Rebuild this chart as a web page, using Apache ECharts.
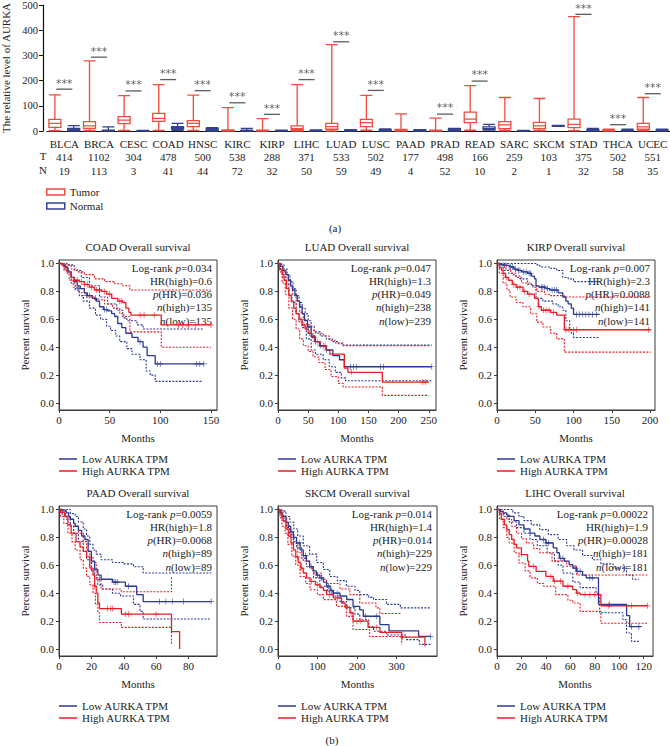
<!DOCTYPE html>
<html><head><meta charset="utf-8">
<script src="https://cdn.jsdelivr.net/npm/echarts@6/dist/echarts.min.js"></script>
<style>html,body{margin:0;padding:0;background:#fff}#c{width:670px;height:746px}</style>
</head><body><div id="c"></div>
<script>
// ---------------- Panel (a): expression box plot ----------------
const categories = ['BLCA','BRCA','CESC','COAD','HNSC','KIRC','KIRP','LIHC','LUAD','LUSC','PAAD','PRAD','READ','SARC','SKCM','STAD','THCA','UCEC'];
const tumorCounts = [414,1102,304,478,500,538,288,371,533,502,177,498,166,259,103,375,502,551];
const normalCounts = [19,113,3,41,44,72,32,50,59,49,4,52,10,2,1,32,58,35];
// [min, Q1, median, Q3, max]
const tumorBox = [
 [1,14,30,46,143],[1,10,20,37,278],[2,29,43,57,140],[2,38,50,70,184],[2,17,30,41,142],
 [0,1,2,4,93],[0,1,2,3,49],[0,4,9,20,184],[0,7,17,30,343],[3,17,33,46,141],
 [0,1,3,6,68],[0,1,2,3,51],[3,33,47,75,180],[1,9,24,37,133],[1,9,20,34,129],
 [1,13,26,47,454],[0,1,2,3,7],[1,7,16,30,133]
];
const normalBox = [
 [0,3,5,10,21],[0,1,2,3,16],[0,0.5,1,1.5,2],[3,8,13,17,30],[0,3,6,10,13],
 [0,1,1.5,2,10],[0,0.5,1,1.5,3],[0,1,1.5,2,4],[0,1,2,3,5],[0,1,3,5,8],
 [0,1,2,4,5],[0,2,5,9,10],[4,5,9,16,26],[0,0.5,1,1.5,2],[18,19,20,21,22],
 [0,1,3,5,10],[0,1,1.5,2,7],[0,1,2,3,7]
];
const sigLine = [166,293,159,204,160,112,66,204,354,161,null,67,198,null,null,463,25,148];
const boxTicks = [0,100,200,300,400,500];

// ---------------- Panel (b): Kaplan-Meier curves ----------------
const coadLow = [[0,1],[3,0.99],[6,0.97],[9,0.94],[12,0.9],[15,0.87],[18,0.84],[21,0.82],[25,0.79],[28,0.77],[33,0.75],[37,0.73],[40,0.69],[44,0.67],[48,0.66],[52,0.64],[55,0.62],[58,0.57],[62,0.54],[66,0.5],[72,0.47],[78,0.44],[83,0.4],[87,0.34],[95,0.28],[143,0.28]];
const coadLowUpper = [[0,1],[8,0.99],[15,0.95],[22,0.9],[30,0.84],[40,0.76],[48,0.71],[57,0.665],[63,0.61],[67,0.59],[77,0.56],[83,0.53],[142,0.53]];
const coadLowLower = [[0,1],[5,0.96],[8,0.93],[12,0.86],[16,0.81],[20,0.77],[24,0.73],[30,0.68],[36,0.63],[41,0.6],[47,0.55],[51,0.52],[56,0.48],[60,0.44],[67,0.39],[72,0.35],[80,0.31],[86,0.23],[90,0.2],[95,0.155],[142,0.155]];
const coadHigh = [[0,1],[4,0.98],[8,0.94],[12,0.9],[15,0.88],[20,0.87],[25,0.85],[30,0.83],[35,0.81],[42,0.8],[47,0.78],[52,0.75],[58,0.73],[63,0.72],[66,0.68],[69,0.65],[71,0.63],[101,0.56],[150,0.56]];
const coadHighUpper = [[0,1],[6,0.99],[12,0.96],[18,0.94],[25,0.92],[35,0.89],[45,0.87],[55,0.855],[63,0.84],[70,0.81],[150,0.81]];
const coadHighLower = [[0,1],[5,0.95],[10,0.88],[14,0.83],[20,0.79],[27,0.76],[35,0.74],[45,0.71],[53,0.68],[60,0.64],[64,0.62],[70,0.51],[101,0.4],[150,0.4]];
const coadLowCens = [[19,0.82],[27,0.77],[30,0.77],[36,0.75],[45,0.67],[47,0.67],[80,0.44],[97,0.28],[100,0.28],[136,0.28],[139,0.28],[143,0.28]];
const coadHighCens = [[15,0.88],[18,0.88],[22,0.87],[25,0.85],[28,0.85],[32,0.83],[37,0.81],[40,0.81],[45,0.8],[50,0.78],[60,0.73],[62,0.73],[80,0.63],[84,0.63],[94,0.63],[118,0.56],[122,0.56],[128,0.56],[135,0.56],[150,0.56]];

const luadLow = [[0,1],[4,0.98],[8,0.95],[13,0.92],[17,0.88],[21,0.84],[24,0.81],[28,0.77],[32,0.73],[36,0.69],[40,0.64],[44,0.59],[49,0.545],[55,0.48],[61,0.44],[69,0.41],[80,0.38],[91,0.34],[102,0.31],[110,0.26],[255,0.26]];
const luadLowUpper = [[0,1],[6,0.99],[10,0.96],[15,0.92],[20,0.87],[25,0.82],[30,0.77],[35,0.72],[40,0.68],[45,0.64],[50,0.59],[55,0.55],[60,0.51],[70,0.48],[80,0.46],[90,0.44],[100,0.425],[108,0.415],[255,0.415]];
const luadLowLower = [[0,1],[4,0.95],[8,0.9],[13,0.85],[18,0.78],[23,0.72],[30,0.64],[35,0.58],[40,0.54],[47,0.46],[55,0.38],[62,0.35],[75,0.31],[85,0.26],[95,0.22],[105,0.18],[112,0.16],[255,0.16]];
const luadHigh = [[0,1],[3,0.96],[7,0.92],[10,0.88],[14,0.82],[18,0.77],[22,0.73],[26,0.68],[30,0.64],[35,0.6],[40,0.56],[45,0.53],[50,0.5],[56,0.47],[62,0.44],[70,0.41],[80,0.38],[86,0.35],[110,0.25],[116,0.22],[173,0.15],[250,0.15]];
const luadHighUpper = [[0,1],[4,0.98],[8,0.94],[13,0.9],[18,0.84],[24,0.78],[30,0.71],[36,0.65],[42,0.6],[48,0.56],[55,0.52],[62,0.5],[75,0.48],[85,0.45],[95,0.43],[108,0.41],[250,0.41]];
const luadHighLower = [[0,1],[3,0.94],[7,0.86],[12,0.78],[18,0.68],[24,0.6],[30,0.53],[36,0.46],[42,0.41],[50,0.37],[58,0.33],[68,0.29],[78,0.24],[88,0.19],[100,0.14],[108,0.115],[173,0.055],[250,0.055]];
const luadLowCens = [[50,0.545],[58,0.48],[62,0.44],[70,0.41],[75,0.41],[80,0.38],[120,0.26],[125,0.26],[130,0.26],[170,0.26],[175,0.26],[255,0.26]];
const luadHighCens = [[38,0.6],[43,0.56],[52,0.5],[60,0.47],[66,0.44],[78,0.41],[122,0.22],[240,0.15],[245,0.15]];

const kirpLow = [[0,1],[5,0.99],[10,0.985],[17,0.975],[22,0.96],[27,0.95],[32,0.94],[40,0.93],[45,0.91],[49,0.89],[51,0.84],[55,0.83],[64,0.82],[69,0.81],[80,0.79],[86,0.76],[90,0.73],[93,0.71],[97,0.68],[100,0.635],[134,0.635]];
const kirpLowUpper = [[0,1],[52,0.99],[56,0.975],[70,0.965],[78,0.95],[86,0.9],[93,0.89],[100,0.87],[134,0.87]];
const kirpLowLower = [[0,1],[5,0.97],[8,0.95],[15,0.93],[22,0.91],[30,0.89],[40,0.85],[47,0.83],[51,0.75],[60,0.73],[73,0.71],[80,0.69],[86,0.665],[90,0.59],[95,0.53],[97,0.5],[100,0.47],[134,0.47]];
const kirpHigh = [[0,1],[3,0.97],[6,0.95],[8,0.93],[11,0.9],[15,0.88],[20,0.85],[25,0.83],[34,0.8],[40,0.78],[49,0.75],[54,0.69],[58,0.665],[70,0.65],[78,0.63],[88,0.525],[201,0.525]];
const kirpHighUpper = [[0,1],[5,0.99],[10,0.96],[18,0.93],[25,0.9],[32,0.86],[45,0.84],[52,0.8],[62,0.78],[70,0.77],[88,0.76],[201,0.76]];
const kirpHighLower = [[0,1],[3,0.93],[8,0.86],[13,0.81],[17,0.76],[25,0.72],[34,0.69],[44,0.64],[52,0.58],[60,0.545],[70,0.5],[78,0.46],[88,0.365],[201,0.365]];
const kirpLowCens = [[8,0.99],[12,0.985],[18,0.975],[20,0.975],[24,0.96],[28,0.95],[30,0.95],[35,0.94],[38,0.94],[42,0.93],[44,0.93],[58,0.83],[60,0.83],[62,0.83],[66,0.82],[72,0.81],[75,0.81],[78,0.81],[104,0.635],[108,0.635],[112,0.635],[116,0.635],[120,0.635],[125,0.635],[130,0.635]];
const kirpHighCens = [[12,0.9],[22,0.85],[27,0.83],[30,0.83],[36,0.8],[42,0.78],[55,0.69],[61,0.665],[64,0.665],[68,0.665],[74,0.65],[90,0.525],[94,0.525],[100,0.525],[104,0.525],[198,0.525]];

const paadLow = [[0,1],[2,0.99],[4.5,0.976],[6,0.95],[7,0.93],[9,0.9],[10,0.88],[12,0.85],[14,0.81],[16,0.785],[18,0.7],[20,0.63],[22,0.57],[24,0.53],[26,0.5],[33,0.48],[41,0.45],[48,0.39],[52,0.34],[94,0.34]];
const paadLowUpper = [[0,1],[5,1],[7,0.97],[10,0.95],[12,0.91],[15,0.86],[17,0.81],[19,0.75],[21,0.71],[23,0.68],[26,0.64],[33,0.62],[40,0.61],[46,0.59],[52,0.545],[94,0.545]];
const paadLowLower = [[0,1],[2,0.96],[4.5,0.93],[7,0.88],[9,0.83],[12,0.77],[15,0.7],[17,0.64],[20,0.56],[22,0.51],[24,0.46],[27,0.43],[33,0.4],[38,0.38],[46,0.32],[50,0.27],[52,0.215],[94,0.215]];
const paadHigh = [[0,1],[1,0.98],[3.5,0.95],[5.5,0.89],[7.5,0.83],[10.5,0.77],[13,0.73],[15,0.7],[17,0.66],[19,0.58],[21,0.53],[22,0.45],[23,0.4],[24,0.33],[25,0.29],[38.5,0.25],[69.5,0.125],[74.5,0]];
const paadHighUpper = [[0,1],[2.5,1],[4,0.95],[6.5,0.93],[9,0.88],[12,0.83],[15,0.77],[17,0.71],[19,0.66],[21,0.62],[23,0.5],[26,0.43],[38.5,0.41],[69.5,0.52]];
const paadHighLower = [[0,1],[1,0.95],[3,0.9],[5.5,0.83],[8,0.77],[10,0.71],[13,0.64],[15,0.58],[17,0.52],[19,0.46],[21,0.4],[22.5,0.32],[24,0.26],[25,0.19],[38.5,0.155],[69.5,0.03]];
const paadLowCens = [[25,0.5],[34,0.48],[35,0.48],[36,0.48],[43,0.45],[62,0.34],[66,0.34],[70,0.34],[77,0.34],[94,0.34]];
const paadHighCens = [[22,0.45],[30,0.29],[32,0.29],[33,0.29],[41,0.25],[43,0.25],[60,0.25]];

const skcmLow = [[0,1],[5,0.98],[10,0.96],[13,0.95],[20,0.91],[26,0.88],[32,0.84],[39,0.8],[47,0.76],[56,0.71],[64,0.67],[72,0.63],[80,0.59],[89,0.56],[97,0.53],[106,0.51],[115,0.48],[123,0.45],[132,0.42],[140,0.4],[157,0.38],[174,0.355],[190,0.305],[207,0.28],[216,0.235],[258,0.175],[281,0.13],[356,0.09],[386,0.09]];
const skcmLowUpper = [[0,1],[10,0.99],[20,0.95],[30,0.91],[40,0.86],[50,0.81],[64,0.74],[80,0.68],[98,0.62],[115,0.57],[131,0.52],[150,0.49],[173,0.45],[195,0.42],[207,0.39],[230,0.37],[242,0.355],[275,0.32],[310,0.295],[386,0.29]];
const skcmLowLower = [[0,1],[8,0.95],[15,0.91],[22,0.87],[30,0.82],[40,0.77],[47,0.725],[60,0.65],[72,0.59],[90,0.51],[106,0.45],[125,0.41],[140,0.38],[157,0.34],[174,0.295],[195,0.25],[207,0.21],[230,0.16],[242,0.127],[275,0.1],[325,0.067],[358,0.033],[386,0.033]];
const skcmHigh = [[0,1],[5,0.97],[10,0.94],[13,0.92],[20,0.86],[26,0.81],[33,0.76],[39,0.71],[45,0.66],[51,0.62],[58,0.58],[64,0.545],[72,0.51],[81,0.485],[95,0.46],[106,0.44],[115,0.42],[123,0.39],[140,0.366],[161,0.33],[170,0.3],[182,0.26],[190,0.2],[228,0.155],[258,0.12],[313,0.085],[372,0.02]];
const skcmHighUpper = [[0,1],[6,0.99],[13,0.95],[22,0.88],[30,0.82],[39,0.76],[50,0.69],[64,0.63],[80,0.58],[89,0.545],[110,0.5],[123,0.47],[157,0.43],[182,0.39],[207,0.33],[248,0.295],[258,0.255],[313,0.255]];
const skcmHighLower = [[0,1],[5,0.94],[10,0.88],[18,0.83],[25,0.75],[35,0.665],[45,0.6],[56,0.52],[70,0.47],[81,0.425],[100,0.39],[115,0.354],[148,0.306],[173,0.234],[190,0.14],[232,0.09],[313,0.03]];
const skcmLowCens = [[35,0.84],[39,0.8],[55,0.76],[70,0.67],[84,0.59],[100,0.53],[110,0.51],[128,0.45],[135,0.42],[140,0.4],[150,0.4],[222,0.235],[250,0.235],[386,0.09]];
const skcmHighCens = [[50,0.66],[60,0.58],[85,0.485],[100,0.46],[130,0.39],[150,0.366],[175,0.3],[185,0.26],[200,0.2],[210,0.2],[250,0.155],[315,0.085]];

const lihcLow = [[0,1],[3,0.985],[5,0.976],[8,0.96],[10,0.95],[14,0.92],[18,0.89],[22,0.86],[27,0.83],[31,0.81],[35,0.785],[40,0.76],[46,0.725],[49,0.69],[51,0.65],[55,0.63],[59,0.605],[62,0.58],[65,0.557],[70,0.53],[73,0.51],[83,0.32],[106,0.24],[108.5,0.16],[118,0.16]];
const lihcLowUpper = [[0,1],[8,1],[13,0.976],[18,0.95],[22,0.92],[28,0.89],[35,0.856],[42,0.82],[50,0.785],[57,0.74],[63,0.71],[70,0.67],[78,0.64],[85,0.61],[95,0.58],[106,0.53],[111,0.5],[116,0.5]];
const lihcLowLower = [[0,1],[3,0.97],[5,0.95],[10,0.91],[16,0.87],[22,0.83],[27,0.785],[33,0.74],[41,0.69],[47,0.63],[50,0.6],[54,0.545],[62,0.48],[68,0.44],[81,0.4],[84,0.26],[103,0.21],[106,0.115],[110,0.055],[116,0.055]];
const lihcHigh = [[0,1],[2,0.97],[3.5,0.93],[6,0.89],[8,0.856],[10,0.82],[12,0.785],[14,0.75],[16,0.725],[20,0.677],[25,0.63],[26,0.593],[32,0.557],[40,0.52],[46,0.486],[54,0.45],[62,0.426],[65,0.4],[68,0.39],[85,0.31],[123,0.31]];
const lihcHighUpper = [[0,1],[5,0.97],[8,0.93],[12,0.88],[16,0.83],[20,0.79],[24,0.76],[30,0.72],[35,0.69],[45,0.63],[57,0.593],[65,0.53],[123,0.53]];
const lihcHighLower = [[0,1],[2,0.93],[5,0.87],[8,0.8],[10,0.76],[14,0.69],[18,0.617],[23,0.56],[27,0.51],[33,0.47],[38,0.45],[48,0.39],[58,0.35],[62,0.33],[68,0.27],[85,0.185],[123,0.185]];
const lihcLowCens = [[38,0.785],[40,0.76],[42,0.76],[52,0.65],[54,0.65],[64,0.58],[66,0.557],[68,0.557],[76,0.51],[78,0.51],[92,0.32],[110,0.16],[116,0.16]];
const lihcHighCens = [[20,0.677],[30,0.593],[44,0.52],[47,0.486],[52,0.486],[58,0.45],[66,0.4],[72,0.39],[76,0.39],[80,0.39],[91,0.31],[110,0.31],[123,0.31]];

const survTicks = [0,0.2,0.4,0.6,0.8,1.0];
const coadMonthTicks = [0,50,100,150];
const luadMonthTicks = [0,50,100,150,200,250];
const kirpMonthTicks = [0,50,100,150,200];
const paadMonthTicks = [0,20,40,60,80];
const skcmMonthTicks = [0,100,200,300];
const lihcMonthTicks = [0,20,40,60,80,100,120];

const coadStats = ['Log-rank {i|p}=0.034','HR(high)=0.6','{i|p}(HR)=0.036','{i|n}(high)=135','{i|n}(low)=135'];
const luadStats = ['Log-rank {i|p}=0.047','HR(high)=1.3','{i|p}(HR)=0.049','{i|n}(high)=238','{i|n}(low)=239'];
const kirpStats = ['Log-rank {i|p}=0.007','HR(high)=2.3','{i|p}(HR)=0.0088','{i|n}(high)=141','{i|n}(low)=141'];
const paadStats = ['Log-rank {i|p}=0.0059','HR(high)=1.8','{i|p}(HR)=0.0068','{i|n}(high)=89','{i|n}(low)=89'];
const skcmStats = ['Log-rank {i|p}=0.014','HR(high)=1.4','{i|p}(HR)=0.014','{i|n}(high)=229','{i|n}(low)=229'];
const lihcStats = ['Log-rank {i|p}=0.00022','HR(high)=1.9','{i|p}(HR)=0.00028','{i|n}(high)=181','{i|n}(low)=181'];

const panels = [
 {title:'COAD Overall survival', low:coadLow, lowUp:coadLowUpper, lowDn:coadLowLower, high:coadHigh, highUp:coadHighUpper, highDn:coadHighLower, lowCens:coadLowCens, highCens:coadHighCens, ticks:coadMonthTicks, stats:coadStats},
 {title:'LUAD Overall survival', low:luadLow, lowUp:luadLowUpper, lowDn:luadLowLower, high:luadHigh, highUp:luadHighUpper, highDn:luadHighLower, lowCens:luadLowCens, highCens:luadHighCens, ticks:luadMonthTicks, stats:luadStats},
 {title:'KIRP Overall survival', low:kirpLow, lowUp:kirpLowUpper, lowDn:kirpLowLower, high:kirpHigh, highUp:kirpHighUpper, highDn:kirpHighLower, lowCens:kirpLowCens, highCens:kirpHighCens, ticks:kirpMonthTicks, stats:kirpStats},
 {title:'PAAD Overall survival', low:paadLow, lowUp:paadLowUpper, lowDn:paadLowLower, high:paadHigh, highUp:paadHighUpper, highDn:paadHighLower, lowCens:paadLowCens, highCens:paadHighCens, ticks:paadMonthTicks, stats:paadStats},
 {title:'SKCM Overall survival', low:skcmLow, lowUp:skcmLowUpper, lowDn:skcmLowLower, high:skcmHigh, highUp:skcmHighUpper, highDn:skcmHighLower, lowCens:skcmLowCens, highCens:skcmHighCens, ticks:skcmMonthTicks, stats:skcmStats},
 {title:'LIHC Overall survival', low:lihcLow, lowUp:lihcLowUpper, lowDn:lihcLowLower, high:lihcHigh, highUp:lihcHighUpper, highDn:lihcHighLower, lowCens:lihcLowCens, highCens:lihcHighCens, ticks:lihcMonthTicks, stats:lihcStats}
];

// ---------------- layout / style ----------------
const FONT = '"Liberation Serif","DejaVu Serif",serif';
const TUMOR = '#ef4d42', NORMAL = '#34418f';
const LOWC = '#2b3990', HIGHC = '#ec1c24';
const AX = '#3a3a3a', TXT = '#222';
const kmLayout = [
 {left:59, top:260, width:158, xMax:156},
 {left:278, top:260, width:158, xMax:262},
 {left:497, top:260, width:158, xMax:206.5},
 {left:59, top:506, width:158, xMax:97.6},
 {left:278, top:506, width:159, xMax:402.6},
 {left:497, top:506, width:156, xMax:127.6}
];
const KM_H = 150;
const CROSS = 'path://M4.4,0H5.6V10H4.4ZM0,4.4H10V5.6H0Z';

const grids = [{left:47, right:0, top:5, height:126, outerBoundsMode:'none'}];
const xAxes = [{
  type:'category', gridIndex:0, data:categories, boundaryGap:true,
  axisLine:{lineStyle:{color:'#111', width:1.2}}, axisTick:{show:false},
  axisLabel:{interval:0, margin:6, color:TXT, fontFamily:FONT, fontSize:11, lineHeight:13.5,
    formatter:(v,i)=> v + '\n' + tumorCounts[i] + '\n' + normalCounts[i]}
}];
const yAxes = [{
  type:'value', gridIndex:0, min:0, max:500, interval:100, offset:4,
  axisLine:{show:true, lineStyle:{color:'#111', width:1.2}}, axisTick:{show:true, length:4, lineStyle:{color:'#111'}},
  splitLine:{show:false},
  axisLabel:{color:TXT, fontFamily:FONT, fontSize:10.5, margin:5, customValues:boxTicks},
  name:'The relative level of AURKA', nameLocation:'middle', nameGap:30,
  nameTextStyle:{fontFamily:FONT, fontSize:11, color:TXT}
}];
const series = [
 {name:'Tumor', type:'boxplot', xAxisIndex:0, yAxisIndex:0, data:tumorBox, boxWidth:[12,12],
  itemStyle:{color:'#fff', borderColor:TUMOR, borderWidth:1.3}, silent:true},
 {name:'gap', type:'boxplot', xAxisIndex:0, yAxisIndex:0, data:[], boxWidth:[1,1], silent:true},
 {name:'Normal', type:'boxplot', xAxisIndex:0, yAxisIndex:0, data:normalBox, boxWidth:[12,12],
  itemStyle:{color:'#fff', borderColor:NORMAL, borderWidth:1.3}, silent:true},
 {name:'sig', type:'scatter', xAxisIndex:0, yAxisIndex:0, silent:true, z:5,
  data: categories.map((c,i)=>[i, sigLine[i]]).filter(d=>d[1]!=null),
  symbol:'rect', symbolSize:[16,1.3], itemStyle:{color:'#333'},
  label:{show:true, position:'top', distance:0, formatter:'***', color:'#333', fontFamily:'"DejaVu Sans",sans-serif', fontSize:11,
         textShadowColor:'rgba(255,255,255,0.01)', textShadowBlur:1}}
];
const legends = [{
  data:[{name:'Tumor', itemStyle:{color:'#fff', borderColor:TUMOR, borderWidth:1.5}},
        {name:'Normal', itemStyle:{color:'#fff', borderColor:NORMAL, borderWidth:1.5}}],
  orient:'vertical', left:46, top:186, icon:'rect', itemWidth:18, itemHeight:6, itemGap:2,
  selectedMode:false, padding:0, textStyle:{fontFamily:FONT, fontSize:11, color:TXT, lineHeight:12}
}];
const graphics = [
 {type:'text', x:43, y:156, style:{text:'T', align:'center', verticalAlign:'middle', textAlign:'center', textVerticalAlign:'middle', fontFamily:FONT, fontSize:11, fill:TXT}},
 {type:'text', x:43, y:170, style:{text:'N', align:'center', verticalAlign:'middle', textAlign:'center', textVerticalAlign:'middle', fontFamily:FONT, fontSize:11, fill:TXT}},
 {type:'text', x:335, y:228, style:{text:'(a)', align:'center', verticalAlign:'middle', textAlign:'center', textVerticalAlign:'middle', fontFamily:FONT, fontSize:11, fill:TXT}},
 {type:'text', x:332, y:740, style:{text:'(b)', align:'center', verticalAlign:'middle', textAlign:'center', textVerticalAlign:'middle', fontFamily:FONT, fontSize:11, fill:TXT}}
];

panels.forEach((p, idx)=>{
  const k = idx + 1;
  const L = kmLayout[idx];
  grids.push({left:L.left, top:L.top, width:L.width, height:KM_H, show:true, borderColor:AX, borderWidth:1, backgroundColor:'transparent', outerBoundsMode:'none'});
  xAxes.push({type:'value', gridIndex:k, min:0, max:L.xMax,
    axisLine:{show:true, onZero:false, lineStyle:{color:AX, width:1}},
    axisTick:{show:true, length:3, lineStyle:{color:AX}, customValues:p.ticks},
    axisLabel:{color:TXT, fontFamily:FONT, fontSize:11, margin:4, customValues:p.ticks},
    splitLine:{show:false},
    name:'Months', nameLocation:'middle', nameGap:22, nameTextStyle:{fontFamily:FONT, fontSize:11, color:TXT}});
  yAxes.push({type:'value', gridIndex:k, min:-0.05, max:1.025,
    axisLine:{show:true, onZero:false, lineStyle:{color:AX, width:1}},
    axisTick:{show:true, length:3, lineStyle:{color:AX}, customValues:survTicks},
    axisLabel:{color:TXT, fontFamily:FONT, fontSize:11, margin:5, customValues:survTicks, formatter:v=>v.toFixed(1)},
    splitLine:{show:false},
    name:'Percent survival', nameLocation:'middle', nameGap:29, nameTextStyle:{fontFamily:FONT, fontSize:11, color:TXT}});
  const ci = (nm, data, color) => ({name:nm, type:'line', xAxisIndex:k, yAxisIndex:k, data, step:'end', symbol:'none', showSymbol:false, silent:true, z:2,
      lineStyle:{color, width:1.1, type:[2,1.4]}, itemStyle:{color}});
  const main = (nm, data, color) => ({name:nm, type:'line', xAxisIndex:k, yAxisIndex:k, data, step:'end', symbol:'none', showSymbol:false, silent:true, z:3,
      lineStyle:{color, width:1.3}, itemStyle:{color}});
  const cens = (nm, data, color) => ({name:nm, type:'scatter', xAxisIndex:k, yAxisIndex:k, data, symbol:CROSS, symbolSize:6, silent:true, z:4, itemStyle:{color}});
  series.push(ci('lowCIu'+k, p.lowUp, LOWC), ci('lowCIl'+k, p.lowDn, LOWC),
              ci('highCIu'+k, p.highUp, HIGHC), ci('highCIl'+k, p.highDn, HIGHC),
              main('Low AURKA TPM', p.low, LOWC), main('High AURKA TPM', p.high, HIGHC),
              cens('lowCens'+k, p.lowCens, LOWC), cens('highCens'+k, p.highCens, HIGHC));
  legends.push({data:['Low AURKA TPM','High AURKA TPM'], orient:'vertical', left:L.left, top: idx<3 ? 453 : 700,
    icon:'rect', itemWidth:18, itemHeight:1.5, itemGap:0, selectedMode:false, padding:0,
    textStyle:{fontFamily:FONT, fontSize:11, color:TXT, lineHeight:12}});
  const cx = L.left + L.width/2;
  graphics.push({type:'text', x:cx, y:L.top-13, style:{text:p.title, align:'center', verticalAlign:'middle', textAlign:'center', textVerticalAlign:'middle', fontFamily:FONT, fontSize:11, fill:TXT}});
  p.stats.forEach((s, j)=>{
    graphics.push({type:'text', x:L.left + L.width - 5, y:L.top + 7.5 + 13.3*j,
      style:{text:s, align:'right', verticalAlign:'middle', textAlign:'right', textVerticalAlign:'middle', fontFamily:FONT, fontSize:11, fill:TXT,
        rich:{i:{fontStyle:'italic', fontFamily:FONT, fontSize:11, fill:TXT}}}});
  });
});

const chart = echarts.init(document.getElementById('c'), null, {renderer:'svg', width:670, height:746});
chart.setOption({
  animation:false, backgroundColor:'#fff',
  grid:grids, xAxis:xAxes, yAxis:yAxes, series, legend:legends, graphic:graphics
});
</script></body></html>
